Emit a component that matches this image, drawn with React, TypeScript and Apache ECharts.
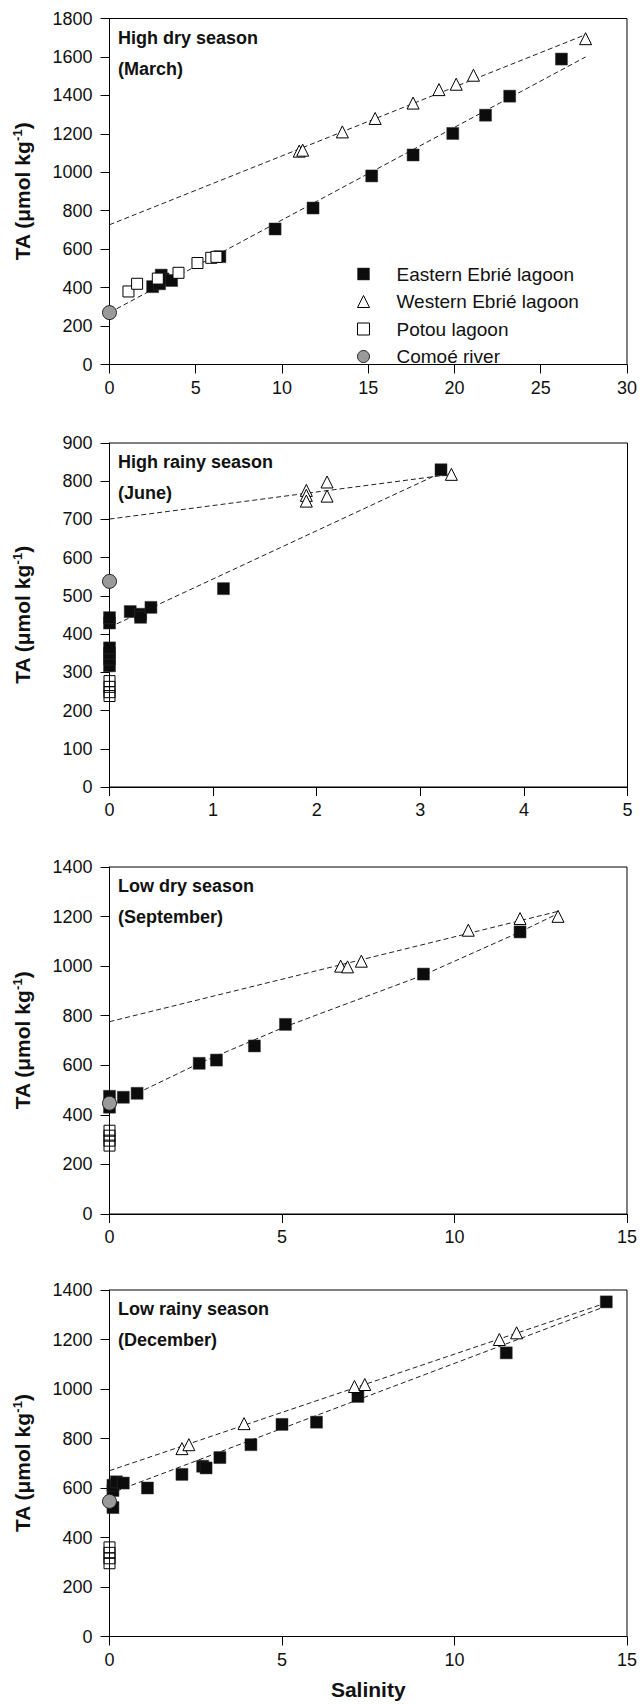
import React, { useEffect, useRef } from "react";
import * as echarts from "echarts";

// ---------- data ----------
const LEGEND_NAMES = ["Eastern Ebrié lagoon", "Western Ebrié lagoon", "Potou lagoon", "Comoé river"];
const PANEL_TITLES = [
  ["High dry season", "(March)"],
  ["High rainy season", "(June)"],
  ["Low dry season", "(September)"],
  ["Low rainy season", "(December)"],
];
const X_MAX = [30, 5, 15, 15];
const X_INTERVAL = [5, 1, 5, 5];
const Y_MAX = [1800, 900, 1400, 1400];
const Y_INTERVAL = [200, 100, 200, 200];
const X_TITLE = "Salinity";

// Panel 1 — March
const east1 = [[2.5, 405], [2.9, 420], [3.0, 465], [3.1, 445], [3.6, 437], [6.4, 561], [9.6, 705], [11.8, 814], [15.2, 981], [17.6, 1090], [19.9, 1202], [21.8, 1297], [23.2, 1396], [26.2, 1589]];
const west1 = [[11.0, 1110], [11.2, 1115], [13.5, 1210], [15.4, 1280], [17.6, 1360], [19.1, 1430], [20.1, 1458], [21.1, 1505], [27.6, 1695]];
const potou1 = [[1.1, 380], [1.6, 420], [2.8, 447], [4.0, 477], [5.1, 528], [5.9, 555], [6.2, 560]];
const comoe1 = [[0, 270]];
const eastLine1 = [[0, 270], [27.6, 1600]];
const westLine1 = [[0, 727], [27.6, 1716]];

// Panel 2 — June
const east2 = [[0, 317], [0, 335], [0, 350], [0, 364], [0, 429], [0, 443], [0.2, 459], [0.3, 452], [0.3, 444], [0.4, 470], [1.1, 519], [3.2, 830]];
const west2 = [[1.9, 776], [1.9, 763], [1.9, 748], [2.1, 798], [2.1, 761], [3.3, 818]];
const potou2 = [[0, 277], [0, 262], [0, 248], [0, 238]];
const comoe2 = [[0, 538]];
const eastLine2 = [[0, 418], [3.2, 822]];
const westLine2 = [[0, 701], [3.3, 818]];

// Panel 3 — September
const east3 = [[0, 431], [0, 475], [0.4, 471], [0.8, 487], [2.6, 608], [3.1, 621], [4.2, 678], [5.1, 765], [9.1, 968], [11.9, 1138]];
const west3 = [[6.7, 1000], [6.9, 997], [7.3, 1020], [10.4, 1145], [11.9, 1192], [13.0, 1201]];
const potou3 = [[0, 336], [0, 316], [0, 296], [0, 276]];
const comoe3 = [[0, 447]];
const eastLine3 = [[0.8, 487], [2.6, 608], [5.1, 756], [9.1, 964], [11.9, 1138], [13.0, 1212]];
const westLine3 = [[0, 776], [13.0, 1221]];

// Panel 4 — December
const east4 = [[0.1, 521], [0.1, 590], [0.1, 611], [0.2, 625], [0.4, 620], [1.1, 600], [2.1, 655], [2.7, 688], [2.8, 681], [3.2, 723], [4.1, 775], [5.0, 857], [6.0, 866], [7.2, 970], [11.5, 1146], [14.4, 1352]];
const west4 = [[2.1, 759], [2.3, 775], [3.9, 860], [7.1, 1010], [7.4, 1018], [11.3, 1200], [11.8, 1227]];
const potou4 = [[0, 360], [0, 338], [0, 316], [0, 296]];
const comoe4 = [[0, 546]];
const eastLine4 = [[0.2, 588], [14.4, 1335]];
const westLine4 = [[0, 670], [14.4, 1348]];

const EAST = [east1, east2, east3, east4];
const WEST = [west1, west2, west3, west4];
const POTOU = [potou1, potou2, potou3, potou4];
const COMOE = [comoe1, comoe2, comoe3, comoe4];
const EAST_LINES = [eastLine1, eastLine2, eastLine3, eastLine4];
const WEST_LINES = [westLine1, westLine2, westLine3, westLine4];

// ---------- layout ----------
const FONT = '"Liberation Sans", Arial, Helvetica, sans-serif';
const GRID_LEFT = 109.5;
const GRID_WIDTH = 518;
const GRID_TOPS = [18.5, 443, 867, 1290];
const GRID_HEIGHTS = [346, 344, 347, 346.5];

const plain = (v: number) => String(v);

export default function App() {
  const ref = useRef<HTMLDivElement>(null);

  useEffect(() => {
    document.body.style.margin = "0";
    if (!ref.current) return;
    const chart = echarts.init(ref.current, undefined, { renderer: "svg" });

    const grid = GRID_TOPS.map((t, i) => ({
      left: GRID_LEFT,
      width: GRID_WIDTH,
      top: t,
      height: GRID_HEIGHTS[i],
      show: true,
      borderColor: "#000",
      borderWidth: 1,
      backgroundColor: "transparent",
    }));

    const xAxis = X_MAX.map((mx, i) => ({
      gridIndex: i,
      type: "value",
      min: 0,
      max: mx,
      interval: X_INTERVAL[i],
      axisLine: { show: true, onZero: false, lineStyle: { color: "#000", width: 1 } },
      axisTick: { show: true, inside: false, length: 9, lineStyle: { color: "#000", width: 1 } },
      axisLabel: { fontSize: 18, color: "#111", margin: 14, fontFamily: FONT, showMinLabel: true, showMaxLabel: true, formatter: plain },
      splitLine: { show: false },
      name: i === 3 ? X_TITLE : "",
      nameLocation: "middle",
      nameGap: 42,
      nameTextStyle: { fontSize: 21, fontWeight: "bold", color: "#111", fontFamily: FONT },
    }));

    const yAxis = Y_MAX.map((mx, i) => ({
      gridIndex: i,
      type: "value",
      min: 0,
      max: mx,
      interval: Y_INTERVAL[i],
      axisLine: { show: true, onZero: false, lineStyle: { color: "#000", width: 1 } },
      axisTick: { show: true, inside: false, length: 9, lineStyle: { color: "#000", width: 1 } },
      axisLabel: { fontSize: 18, color: "#111", margin: 17, fontFamily: FONT, showMinLabel: true, showMaxLabel: true, formatter: plain },
      splitLine: { show: false },
      name: "{a|TA (μmol kg}{s|-1}{a|)}",
      nameLocation: "middle",
      nameRotate: 90,
      nameGap: 75,
      nameTextStyle: {
        rich: {
          a: { fontSize: 21, fontWeight: "bold", color: "#111", fontFamily: FONT, lineHeight: 24 },
          s: { fontSize: 13, fontWeight: "bold", color: "#111", fontFamily: FONT, lineHeight: 14, verticalAlign: "top" },
        },
      },
    }));

    const series: any[] = [];
    for (let i = 0; i < 4; i++) {
      const common = { xAxisIndex: i, yAxisIndex: i };
      series.push({
        ...common,
        type: "line",
        name: "Eastern regression",
        data: EAST_LINES[i],
        symbol: "none",
        silent: true,
        z: 1,
        lineStyle: { color: "#222", width: 1, type: [5, 3] },
      });
      series.push({
        ...common,
        type: "line",
        name: "Western regression",
        data: WEST_LINES[i],
        symbol: "none",
        silent: true,
        z: 1,
        lineStyle: { color: "#222", width: 1, type: [5, 3] },
      });
      series.push({
        ...common,
        type: "scatter",
        name: LEGEND_NAMES[0],
        data: EAST[i],
        symbol: "rect",
        symbolSize: 12,
        clip: false,
        itemStyle: { color: "#0c0c0c", borderColor: "#333", borderWidth: 0.5, opacity: 1 },
        z: 2,
      });
      series.push({
        ...common,
        type: "scatter",
        name: LEGEND_NAMES[1],
        data: WEST[i],
        symbol: "triangle",
        symbolSize: 12,
        clip: false,
        itemStyle: { color: "#fff", borderColor: "#000", borderWidth: 1, opacity: 1 },
        z: 3,
      });
      series.push({
        ...common,
        type: "scatter",
        name: LEGEND_NAMES[2],
        data: POTOU[i],
        symbol: "rect",
        symbolSize: 11,
        clip: false,
        itemStyle: {
          color: i === 0 ? "#fff" : "rgba(255,255,255,0)",
          borderColor: "#000",
          borderWidth: 1,
          opacity: 1,
        },
        z: 4,
      });
      series.push({
        ...common,
        type: "scatter",
        name: LEGEND_NAMES[3],
        data: COMOE[i],
        symbol: "circle",
        symbolSize: 14,
        clip: false,
        itemStyle: { color: "#9a9a9a", borderColor: "#222", borderWidth: 1, opacity: 1 },
        z: 5,
      });
    }

    const legendStyles = [
      { icon: "rect", itemStyle: { color: "#0c0c0c", borderColor: "#333", borderWidth: 0.5 } },
      { icon: "triangle", itemStyle: { color: "#fff", borderColor: "#000", borderWidth: 1 } },
      { icon: "rect", itemStyle: { color: "#fff", borderColor: "#000", borderWidth: 1 } },
      { icon: "circle", itemStyle: { color: "#9a9a9a", borderColor: "#222", borderWidth: 1 } },
    ];

    const graphic: any[] = [];
    PANEL_TITLES.forEach((lines, i) => {
      lines.forEach((t, j) => {
        graphic.push({
          type: "text",
          left: 118,
          top: GRID_TOPS[i] + 10 + j * 31,
          style: { text: t, font: `bold 18px ${FONT}`, fill: "#111" },
        });
      });
    });

    chart.setOption({
      animation: false,
      backgroundColor: "#fff",
      grid,
      xAxis,
      yAxis,
      series,
      graphic,
      legend: {
        orient: "vertical",
        left: 352,
        top: 259,
        itemWidth: 12,
        itemHeight: 12,
        itemGap: 7.5,
        selectedMode: false,
        textStyle: { fontSize: 19, color: "#111", fontFamily: FONT, lineHeight: 20, padding: [0, 0, 0, 22] },
        data: LEGEND_NAMES.map((n, k) => ({ name: n, ...legendStyles[k] })),
      },
    });

    return () => chart.dispose();
  }, []);

  return <div ref={ref} style={{ width: 640, height: 1704 }} />;
}
